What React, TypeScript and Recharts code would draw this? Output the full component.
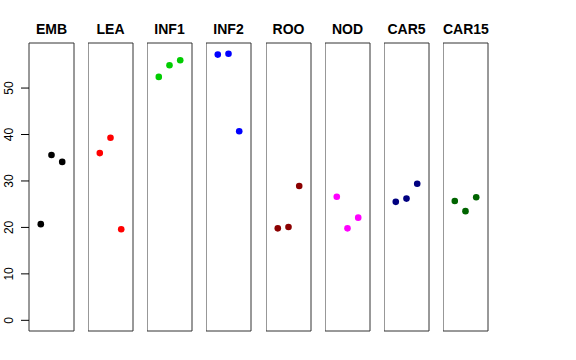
import React from "react";
import { ReferenceArea, Scatter, ScatterChart, XAxis, YAxis } from "recharts";

const groups = ["EMB", "LEA", "INF1", "INF2", "ROO", "NOD", "CAR5", "CAR15"];
const groupColors = ["#000000", "#ff0000", "#00cd00", "#0000ff", "#8b0000", "#ff00ff", "#000080", "#006400"];

const embValues = [20.7, 35.6, 34.1];
const leaValues = [36.0, 39.3, 19.6];
const inf1Values = [52.4, 54.9, 56.0];
const inf2Values = [57.2, 57.4, 40.7];
const rooValues = [19.8, 20.1, 28.9];
const nodValues = [26.6, 19.8, 22.1];
const car5Values = [25.5, 26.2, 29.4];
const car15Values = [25.7, 23.5, 26.5];

const groupValues = [embValues, leaValues, inf1Values, inf2Values, rooValues, nodValues, car5Values, car15Values];
const yTicks = [0, 10, 20, 30, 40, 50];

const PANEL_W = 45;
const PANEL_H = 288;
const FIRST_LEFT = 29;
const PITCH = 59.15;
const AXIS_W = 29;
const X_DOMAIN: [number, number] = [-0.1, 4.1];
const Y_DOMAIN: [number, number] = [-2.3, 59.7];
const FONT = '"Liberation Sans", Arial, sans-serif';

function YTick(props: any) {
  const { y, payload } = props;
  return (
    <text x={13} y={y} transform={`rotate(-90, 13, ${y})`} textAnchor="middle" fontSize={12} fontFamily={FONT} fill="#000">
      {payload.value}
    </text>
  );
}

function Panel({ name, values, color, index }: { name: string; values: number[]; color: string; index: number }) {
  const showAxis = index === 0;
  const axisW = showAxis ? AXIS_W : 0;
  const left = Math.round(FIRST_LEFT + PITCH * index) - axisW;
  const data = values.map((v, i) => ({ x: i + 1, y: v }));
  return (
    <div style={{ position: "absolute", left, top: 0 }}>
      <div
        style={{
          position: "absolute",
          left: axisW,
          width: PANEL_W,
          top: 21,
          textAlign: "center",
          fontFamily: FONT,
          fontWeight: "bold",
          fontSize: 14,
          lineHeight: "16px",
          color: "#000",
        }}
      >
        {name}
      </div>
      <div style={{ position: "absolute", left: 0, top: 42 }}>
        <ScatterChart width={PANEL_W + axisW + 1} height={PANEL_H + 2} margin={{ top: 1, right: 1, bottom: 1, left: 0 }}>
          <XAxis type="number" dataKey="x" domain={X_DOMAIN} hide />
          <YAxis
            type="number"
            dataKey="y"
            domain={Y_DOMAIN}
            ticks={yTicks}
            interval={0}
            width={axisW}
            hide={!showAxis}
            axisLine={false}
            tickLine={{ stroke: "#000" }}
            tickSize={8}
            tick={<YTick />}
          />
          <ReferenceArea x1={X_DOMAIN[0]} x2={X_DOMAIN[1]} y1={Y_DOMAIN[0]} y2={Y_DOMAIN[1]} fill="none" stroke="#333" strokeWidth={1} ifOverflow="extendDomain" />
          <Scatter
            data={data}
            fill={color}
            isAnimationActive={false}
            shape={(p: any) => <circle cx={p.cx} cy={p.cy} r={3.3} fill={color} />}
          />
        </ScatterChart>
      </div>
    </div>
  );
}

export default function App() {
  return (
    <div style={{ position: "absolute", left: 0, top: 0, width: 576, height: 360, background: "#fff" }}>
      {groups.map((g, i) => (
        <Panel key={g} name={g} values={groupValues[i]} color={groupColors[i]} index={i} />
      ))}
    </div>
  );
}
